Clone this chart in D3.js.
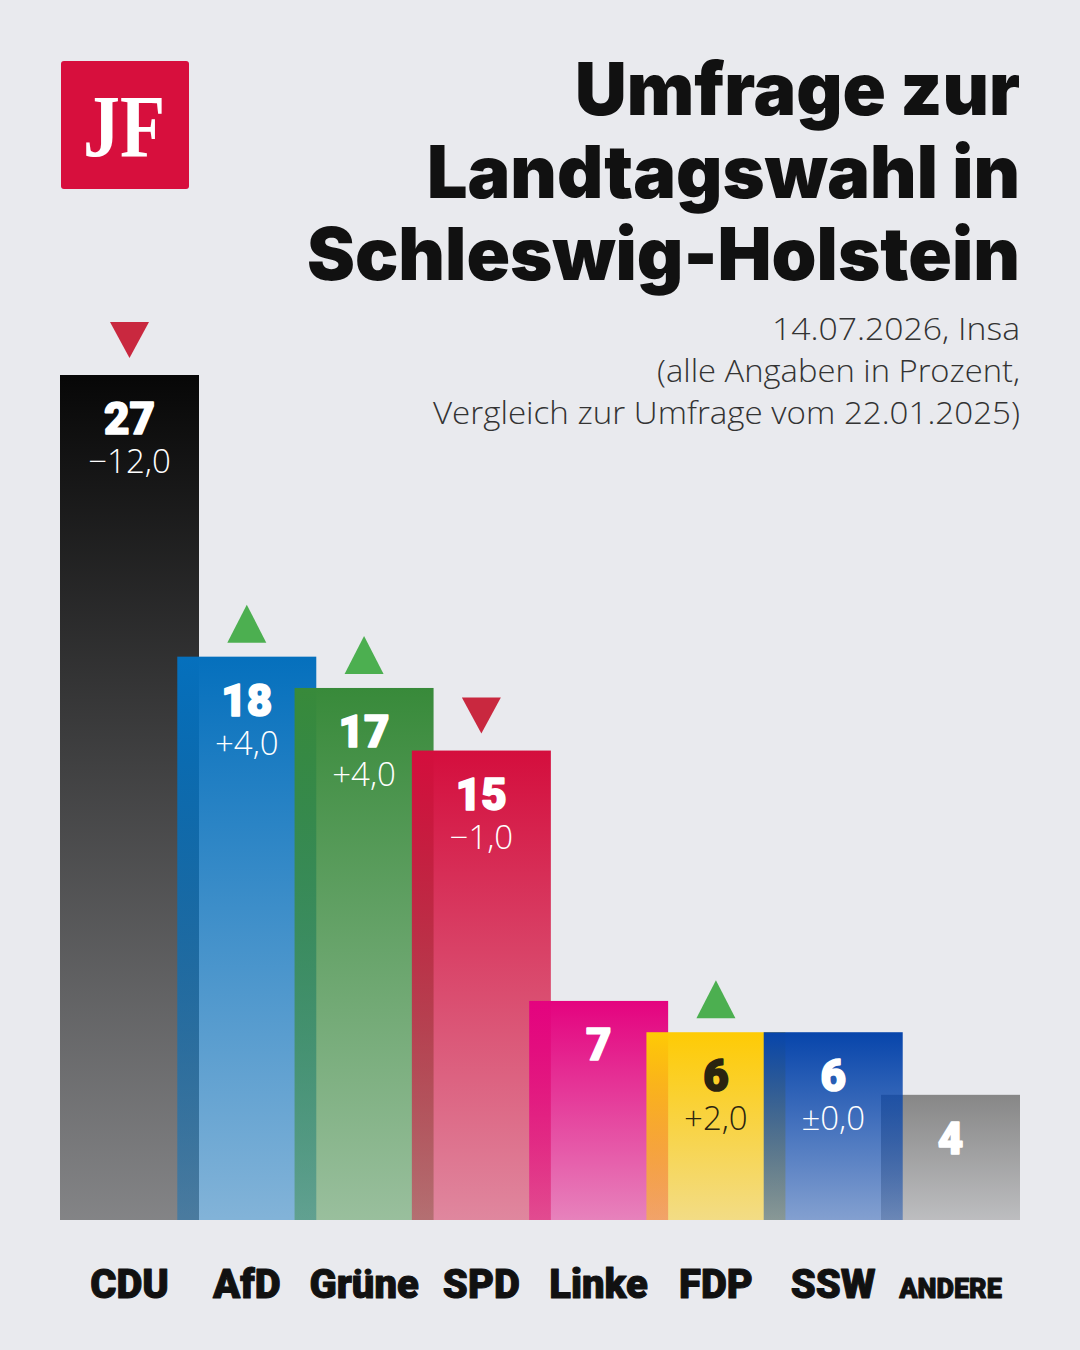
<!DOCTYPE html>
<html>
<head>
<meta charset="utf-8">
<script src="https://cdn.jsdelivr.net/npm/d3@7"></script>
<style>
  html, body { margin: 0; padding: 0; background: #e9eaee; }
  svg { display: block; }
</style>
</head>
<body>
<svg id="chart"></svg>
<script>
// data
const parties = ["CDU", "AfD", "Grüne", "SPD", "Linke", "FDP", "SSW", "ANDERE"];
const values = [27, 18, 17, 15, 7, 6, 6, 4];
const changes = ["−12,0", "+4,0", "+4,0", "−1,0", null, "+2,0", "±0,0", null];
const trends = ["down", "up", "up", "down", null, "up", null, null];

const titleLines = ["Umfrage zur", "Landtagswahl in", "Schleswig-Holstein"];
const subtitleLines = ["14.07.2026, Insa", "(alle Angaben in Prozent,", "Vergleich zur Umfrage vom 22.01.2025)"];

// party colours, bars fade out toward the bottom
const partyColors = ["#070707", "#0570bd", "#388a3a", "#d40e3d", "#e4037f", "#fecb05", "#0745ab", "#878787"];
const labelColors = ["#fff", "#fff", "#fff", "#fff", "#fff", "#2a2410", "#fff", "#fff"];

const W = 1080, H = 1350;
const svg = d3.select("#chart").attr("width", W).attr("height", H);

svg.append("rect").attr("width", W).attr("height", H).attr("fill", "#e9eaee");

// scales
const barW = 139;
const x = d3.scalePoint().domain(parties).range([60 + barW / 2, 1020 - barW / 2]);
const y = d3.scaleLinear().domain([0, 27]).range([1220, 375]);

// gradients: solid colour, opacity 1 at top -> 0.45 at bottom
const defs = svg.append("defs");
parties.forEach((p, i) => {
  const g = defs.append("linearGradient")
    .attr("id", "grad" + i)
    .attr("x1", 0).attr("y1", 0).attr("x2", 0).attr("y2", 1);
  g.append("stop").attr("offset", "0%").attr("stop-color", partyColors[i]).attr("stop-opacity", 1);
  g.append("stop").attr("offset", "100%").attr("stop-color", partyColors[i]).attr("stop-opacity", 0.45);
});

// logo
const logo = svg.append("g");
logo.append("rect")
  .attr("x", 61).attr("y", 61).attr("width", 128).attr("height", 128)
  .attr("rx", 3).attr("fill", "#d70f3d");
logo.append("text")
  .attr("x", 124).attr("y", 156)
  .attr("text-anchor", "middle")
  .attr("font-family", "'Liberation Serif', 'DejaVu Serif', serif")
  .attr("font-weight", 700)
  .attr("font-size", 88)
  .attr("fill", "#fff")
  .attr("textLength", 82)
  .attr("lengthAdjust", "spacingAndGlyphs")
  .text("JF");

// title
const titleWidths = [445, 593, 713];
svg.append("g").selectAll("text")
  .data(titleLines)
  .join("text")
  .attr("x", 1020)
  .attr("y", (d, i) => 115 + i * 82.5)
  .attr("text-anchor", "end")
  .attr("font-family", "Inter, Roboto, sans-serif")
  .attr("font-weight", 900)
  .attr("font-size", 73)
  .attr("fill", "#111")
  .attr("textLength", (d, i) => titleWidths[i])
  .attr("lengthAdjust", "spacingAndGlyphs")
  .text(d => d);

// subtitle
const subWidths = [248, 363, 587];
svg.append("g").selectAll("text")
  .data(subtitleLines)
  .join("text")
  .attr("x", 1020)
  .attr("y", (d, i) => 340 + i * 42)
  .attr("text-anchor", "end")
  .attr("font-family", "'Open Sans', Roboto, sans-serif")
  .attr("font-weight", 300)
  .attr("font-size", 31)
  .attr("fill", "#333")
  .attr("textLength", (d, i) => subWidths[i])
  .attr("lengthAdjust", "spacingAndGlyphs")
  .text(d => d);

// bars: "others" sits underneath, the rest overlap left to right
const drawOrder = [7, 0, 1, 2, 3, 4, 5, 6];
svg.append("g").selectAll("rect")
  .data(drawOrder)
  .join("rect")
  .attr("x", i => x(parties[i]) - barW / 2)
  .attr("y", i => y(values[i]))
  .attr("width", barW)
  .attr("height", i => y(0) - y(values[i]))
  .attr("fill", i => "url(#grad" + i + ")");

// trend triangles
const tri = svg.append("g");
parties.forEach((p, i) => {
  if (!trends[i]) return;
  const cx = x(p), top = y(values[i]);
  let pts;
  if (trends[i] === "up") {
    pts = [[cx - 19.5, top - 14], [cx + 19.5, top - 14], [cx, top - 52]];
  } else {
    pts = [[cx - 19.5, top - 53], [cx + 19.5, top - 53], [cx, top - 17]];
  }
  tri.append("path")
    .attr("d", d3.line()(pts) + "Z")
    .attr("fill", trends[i] === "up" ? "#4caf50" : "#c9283f");
});

// values and changes
const lab = svg.append("g").attr("text-anchor", "middle");
lab.selectAll("text.val")
  .data(parties)
  .join("text")
  .attr("class", "val")
  .attr("x", d => x(d))
  .attr("y", (d, i) => y(values[i]) + 59)
  .attr("font-family", "Roboto, sans-serif")
  .attr("font-weight", 900)
  .attr("font-size", 44)
  .attr("fill", (d, i) => labelColors[i])
  .attr("stroke", (d, i) => labelColors[i])
  .attr("stroke-width", 1.6)
  .attr("stroke-linejoin", "round")
  .text((d, i) => values[i]);

lab.selectAll("text.chg")
  .data(parties.filter((d, i) => changes[i]))
  .join("text")
  .attr("class", "chg")
  .attr("x", d => x(d))
  .attr("y", d => y(values[parties.indexOf(d)]) + 98)
  .attr("font-family", "'Open Sans', Roboto, sans-serif")
  .attr("font-weight", 300)
  .attr("font-size", 33)
  .attr("fill", d => labelColors[parties.indexOf(d)])
  .text(d => changes[parties.indexOf(d)]);

// party names
svg.append("g").attr("text-anchor", "middle")
  .selectAll("text")
  .data(parties)
  .join("text")
  .attr("x", d => x(d))
  .attr("y", 1298)
  .attr("font-family", "Roboto, sans-serif")
  .attr("font-weight", 900)
  .attr("font-size", d => d === "ANDERE" ? 27 : 40)
  .attr("fill", "#111")
  .attr("stroke", "#111")
  .attr("stroke-width", 1)
  .attr("stroke-linejoin", "round")
  .text(d => d);
</script>
</body>
</html>
